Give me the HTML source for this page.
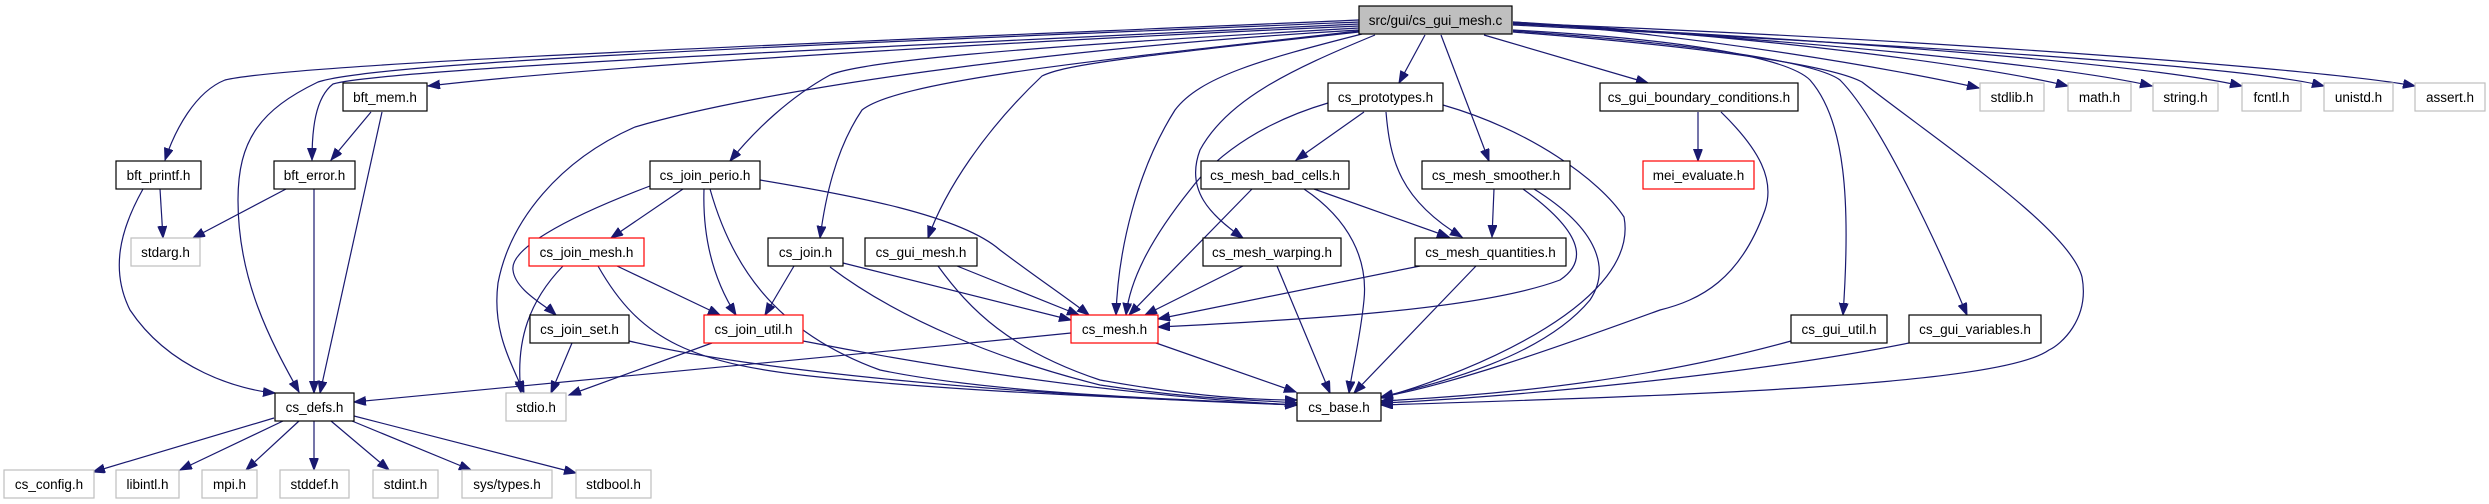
<!DOCTYPE html>
<html><head><meta charset="utf-8"><style>
html,body{margin:0;padding:0;background:#fff;}
svg{display:block;}
text{font-family:"Liberation Sans",Arial,sans-serif;font-size:13.5px;fill:#000;text-anchor:middle;}
.e{fill:none;stroke:#191970;stroke-width:1.2;marker-end:url(#a);}
.n{fill:#fff;stroke:#000;stroke-width:1.2;}
.g{fill:#fff;stroke:#bfbfbf;stroke-width:1.2;}
.r{fill:#fff;stroke:#ff0000;stroke-width:1.2;}
</style></head><body>
<svg width="2489" height="504" viewBox="0 0 2489 504" xmlns="http://www.w3.org/2000/svg">
<defs><marker id="a" markerUnits="userSpaceOnUse" markerWidth="14" markerHeight="10" refX="12" refY="4.5" orient="auto"><path d="M0,0 L12,4.5 L0,9 z" fill="#191970" stroke="#191970"/></marker></defs>
<g>
<!-- from src -->
<path class="e" d="M1359,20 C900,40 300,62 225,80 C195,92 175,130 165,160"/>
<path class="e" d="M1359,22 C800,45 380,62 318,82 C260,110 238,140 238,200 C238,280 270,340 299,392"/>
<path class="e" d="M1359,24 C800,50 380,70 333,84 C315,98 312,130 312,160"/>
<path class="e" d="M1359,26 C1000,42 600,66 428,86"/>
<path class="e" d="M1359,28 C1000,48 860,62 830,75 C790,97 755,130 730,161"/>
<path class="e" d="M1359,30 C1050,48 760,90 635,127 C560,160 510,220 498,283 C492,330 510,360 524,393"/>
<path class="e" d="M1359,31 C1100,60 900,80 862,110 C835,150 825,200 820,238"/>
<path class="e" d="M1359,32 C1120,58 1065,65 1042,76 C985,130 945,190 928,238"/>
<path class="e" d="M1362,34 C1260,60 1200,77 1175,110 C1137,170 1118,250 1116,315"/>
<path class="e" d="M1375,35 C1290,70 1227,100 1200,150 C1185,190 1210,215 1243,238"/>
<path class="e" d="M1425,35 L1399,83"/>
<path class="e" d="M1441,35 L1489,161"/>
<path class="e" d="M1484,35 L1648,83"/>
<path class="e" d="M1513,22 C1700,35 1900,70 1979,88"/>
<path class="e" d="M1513,22 C1750,35 1980,65 2068,86"/>
<path class="e" d="M1513,23 C1800,40 2060,65 2152,86"/>
<path class="e" d="M1513,24 C1850,40 2150,65 2242,86"/>
<path class="e" d="M1513,25 C1900,45 2240,65 2324,86"/>
<path class="e" d="M1513,23 C1950,40 2330,70 2415,86"/>
<path class="e" d="M1513,30 C1700,40 1790,60 1810,80 C1845,120 1851,200 1843,315"/>
<path class="e" d="M1513,31 C1720,45 1820,65 1840,80 C1880,120 1940,250 1967,315"/>
<path class="e" d="M1513,32 C1750,50 1840,70 1862,82 C1950,150 2070,230 2082,277 C2090,320 2060,345 2049,350 C2000,385 1700,395 1381,405"/>
<!-- bft -->
<path class="e" d="M371,112 L331,160"/>
<path class="e" d="M382,112 L320,393"/>
<path class="e" d="M160,189 L163,238"/>
<path class="e" d="M143,189 C120,230 110,270 130,310 C170,370 240,390 275,393"/>
<path class="e" d="M286,189 L193,238"/>
<path class="e" d="M314,189 L314,393"/>
<!-- join perio -->
<path class="e" d="M683,189 L611,238"/>
<path class="e" d="M650,186 C560,220 510,250 513,270 C515,290 545,305 556,315"/>
<path class="e" d="M704,189 C702,250 720,290 736,315"/>
<path class="e" d="M710,189 C730,260 770,330 880,370 C1000,395 1200,400 1297,405"/>
<path class="e" d="M760,180 C850,195 960,215 1000,250 C1040,280 1070,300 1089,315"/>
<path class="e" d="M617,266 L720,315"/>
<path class="e" d="M563,266 C530,300 515,340 521,393"/>
<path class="e" d="M598,266 C640,340 690,365 830,378 C1000,395 1200,400 1297,405"/>
<path class="e" d="M794,266 L765,315"/>
<path class="e" d="M843,263 L1071,320"/>
<path class="e" d="M830,267 C900,320 1000,360 1100,385 C1200,400 1260,400 1297,403"/>
<path class="e" d="M957,266 L1079,315"/>
<path class="e" d="M938,266 C970,310 1010,350 1100,380 C1200,398 1260,400 1297,400"/>
<path class="e" d="M572,343 L551,393"/>
<path class="e" d="M629,341 C750,370 1000,395 1297,405"/>
<path class="e" d="M712,343 L569,395"/>
<path class="e" d="M803,341 C900,360 1100,395 1297,405"/>
<path class="e" d="M1071,333 C800,360 500,390 354,402"/>
<path class="e" d="M1156,343 L1296,392"/>
<!-- prototypes etc -->
<path class="e" d="M1364,112 L1296,160"/>
<path class="e" d="M1328,103 C1270,120 1220,150 1190,190 C1150,240 1130,280 1126,315"/>
<path class="e" d="M1386,112 C1390,160 1400,200 1462,237"/>
<path class="e" d="M1443,105 C1530,130 1600,180 1624,217 C1640,300 1480,370 1381,398"/>
<path class="e" d="M1252,189 L1129,315"/>
<path class="e" d="M1314,189 L1449,237"/>
<path class="e" d="M1304,189 C1350,220 1368,260 1364,300 C1360,340 1352,370 1349,393"/>
<path class="e" d="M1494,189 L1492,237"/>
<path class="e" d="M1523,189 C1580,230 1590,260 1560,280 C1480,310 1300,320 1158,327"/>
<path class="e" d="M1534,189 C1600,230 1610,270 1590,300 C1540,360 1430,385 1381,397"/>
<path class="e" d="M1243,266 L1145,315"/>
<path class="e" d="M1277,266 L1330,393"/>
<path class="e" d="M1420,266 L1158,319"/>
<path class="e" d="M1476,266 L1354,393"/>
<path class="e" d="M1698,112 L1698,161"/>
<path class="e" d="M1721,112 C1760,150 1775,180 1765,210 C1740,280 1700,300 1660,310 C1550,350 1450,385 1381,397"/>
<path class="e" d="M1791,341 C1650,380 1500,395 1381,401"/>
<path class="e" d="M1909,343 C1750,375 1500,398 1381,403"/>
<!-- defs -->
<path class="e" d="M274,418 L93,472"/>
<path class="e" d="M283,421 L180,470"/>
<path class="e" d="M299,421 L246,470"/>
<path class="e" d="M314,421 L314,470"/>
<path class="e" d="M331,421 L389,470"/>
<path class="e" d="M352,421 L471,470"/>
<path class="e" d="M354,416 L576,473"/>
</g>
<g>
<rect x="1359" y="6" width="153" height="28" fill="#bfbfbf" stroke="#000" stroke-width="1.2"/><text x="1435.5" y="25">src/gui/cs_gui_mesh.c</text>
<rect class="n" x="343" y="83" width="84" height="28"/><text x="385" y="102">bft_mem.h</text>
<rect class="n" x="1328" y="83" width="115" height="28"/><text x="1385.5" y="102">cs_prototypes.h</text>
<rect class="n" x="1600" y="83" width="198" height="28"/><text x="1699" y="102">cs_gui_boundary_conditions.h</text>
<rect class="g" x="1980" y="83" width="64" height="28"/><text x="2012" y="102">stdlib.h</text>
<rect class="g" x="2068" y="83" width="63" height="28"/><text x="2099.5" y="102">math.h</text>
<rect class="g" x="2153" y="83" width="65" height="28"/><text x="2185.5" y="102">string.h</text>
<rect class="g" x="2242" y="83" width="59" height="28"/><text x="2271.5" y="102">fcntl.h</text>
<rect class="g" x="2324" y="83" width="69" height="28"/><text x="2358.5" y="102">unistd.h</text>
<rect class="g" x="2415" y="83" width="70" height="28"/><text x="2450" y="102">assert.h</text>

<rect class="n" x="116" y="161" width="85" height="28"/><text x="158.5" y="180">bft_printf.h</text>
<rect class="n" x="274" y="161" width="81" height="28"/><text x="314.5" y="180">bft_error.h</text>
<rect class="n" x="650" y="161" width="110" height="28"/><text x="705" y="180">cs_join_perio.h</text>
<rect class="n" x="1201" y="161" width="148" height="28"/><text x="1275" y="180">cs_mesh_bad_cells.h</text>
<rect class="n" x="1422" y="161" width="148" height="28"/><text x="1496" y="180">cs_mesh_smoother.h</text>
<rect class="r" x="1643" y="161" width="111" height="28"/><text x="1698.5" y="180">mei_evaluate.h</text>

<rect class="g" x="131" y="238" width="69" height="28"/><text x="165.5" y="257">stdarg.h</text>
<rect class="r" x="529" y="238" width="115" height="28"/><text x="586.5" y="257">cs_join_mesh.h</text>
<rect class="n" x="768" y="238" width="75" height="28"/><text x="805.5" y="257">cs_join.h</text>
<rect class="n" x="865" y="238" width="112" height="28"/><text x="921" y="257">cs_gui_mesh.h</text>
<rect class="n" x="1203" y="238" width="138" height="28"/><text x="1272" y="257">cs_mesh_warping.h</text>
<rect class="n" x="1415" y="238" width="151" height="28"/><text x="1490.5" y="257">cs_mesh_quantities.h</text>

<rect class="n" x="530" y="315" width="99" height="28"/><text x="579.5" y="334">cs_join_set.h</text>
<rect class="r" x="704" y="315" width="99" height="28"/><text x="753.5" y="334">cs_join_util.h</text>
<rect class="r" x="1071" y="315" width="87" height="28"/><text x="1114.5" y="334">cs_mesh.h</text>
<rect class="n" x="1791" y="315" width="96" height="28"/><text x="1839" y="334">cs_gui_util.h</text>
<rect class="n" x="1909" y="315" width="132" height="28"/><text x="1975" y="334">cs_gui_variables.h</text>

<rect class="n" x="275" y="393" width="79" height="28"/><text x="314.5" y="412">cs_defs.h</text>
<rect class="g" x="506" y="393" width="60" height="28"/><text x="536" y="412">stdio.h</text>
<rect class="n" x="1297" y="393" width="84" height="28"/><text x="1339" y="412">cs_base.h</text>

<rect class="g" x="4" y="470" width="90" height="28"/><text x="49" y="489">cs_config.h</text>
<rect class="g" x="116" y="470" width="63" height="28"/><text x="147.5" y="489">libintl.h</text>
<rect class="g" x="202" y="470" width="55" height="28"/><text x="229.5" y="489">mpi.h</text>
<rect class="g" x="280" y="470" width="69" height="28"/><text x="314.5" y="489">stddef.h</text>
<rect class="g" x="373" y="470" width="65" height="28"/><text x="405.5" y="489">stdint.h</text>
<rect class="g" x="462" y="470" width="90" height="28"/><text x="507" y="489">sys/types.h</text>
<rect class="g" x="576" y="470" width="75" height="28"/><text x="613.5" y="489">stdbool.h</text>
</g>
</svg>
</body></html>
